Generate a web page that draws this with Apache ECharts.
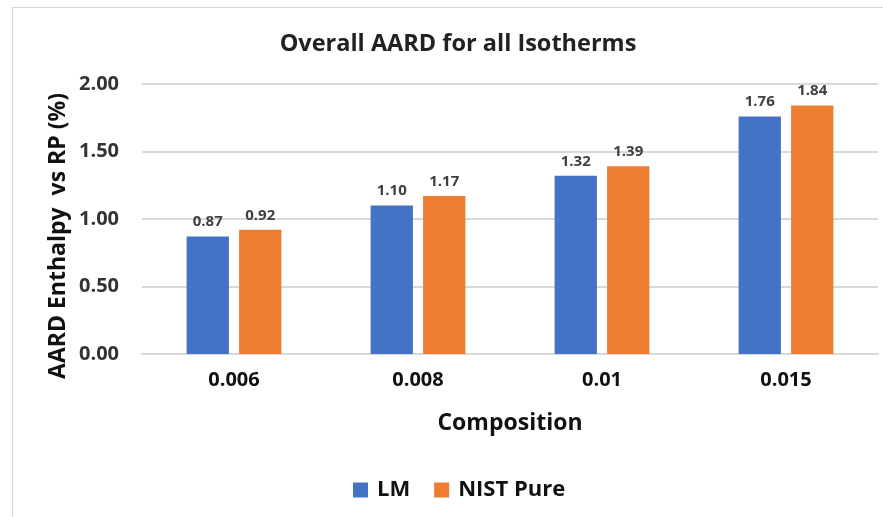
<!DOCTYPE html>
<html>
<head>
<meta charset="utf-8">
<script src="https://cdn.jsdelivr.net/npm/echarts@6/dist/echarts.min.js"></script>
<style>
  html, body { margin: 0; padding: 0; background: #fff; }
  #frame { position: absolute; left: 12px; top: 7px; right: -2px; bottom: -2px; border: 1px solid #d9d9d9; }
  #chart { width: 883px; height: 517px; position: absolute; left: 0; top: 0; }
</style>
</head>
<body>
<div id="frame"></div>
<div id="chart"></div>
<script>
// Compositions and AARD values per model
const compositions = ['0.006', '0.008', '0.01', '0.015'];
const lmValues = [0.87, 1.10, 1.32, 1.76];
const nistPureValues = [0.92, 1.17, 1.39, 1.84];
const yTicks = { min: 0, max: 2, interval: 0.5 };
const yTitle = 'AARD Enthalpy  vs RP (%)';

const FONT = '"Open Sans", "Noto Sans", sans-serif';

const labelStyle = {
  show: true,
  position: 'top',
  distance: 7,
  color: '#404040',
  fontFamily: FONT,
  fontWeight: 'bold',
  fontSize: 15,
  formatter: p => p.value.toFixed(2)
};

const chart = echarts.init(document.getElementById('chart'), null, { renderer: 'canvas' });
chart.setOption({
  animation: false,
  title: {
    text: 'Overall AARD for all Isotherms',
    left: 453,
    textAlign: 'center',
    top: 27,
    textStyle: { fontFamily: FONT, fontWeight: 'bold', fontSize: 23.5, color: '#222' }
  },
  legend: {
    data: ['LM', 'NIST Pure'],
    left: 348,
    top: 474,
    itemWidth: 15,
    itemHeight: 15,
    itemGap: 24,
    icon: 'rect',
    textStyle: { fontFamily: FONT, fontWeight: 'bold', fontSize: 22, color: '#111', padding: [0, 0, 0, 4] }
  },
  // vertical axis title, placed beside the tick labels
  graphic: [{
    type: 'text',
    x: 58,
    y: 236,
    rotation: Math.PI / 2,
    style: {
      text: yTitle,
      align: 'center',
      verticalAlign: 'middle',
      fontFamily: FONT,
      fontWeight: 'bold',
      fontSize: 23,
      fill: '#111'
    }
  }],
  grid: { left: 142, right: 5, top: 84, bottom: 163, containLabel: false },
  xAxis: {
    type: 'category',
    data: compositions,
    name: 'Composition',
    nameLocation: 'middle',
    nameGap: 58,
    nameTextStyle: { fontFamily: FONT, fontWeight: 'bold', fontSize: 23, color: '#111' },
    axisLine: { lineStyle: { color: '#d9d9d9', width: 2 } },
    axisTick: { show: false },
    axisLabel: { margin: 16, fontFamily: FONT, fontWeight: 'bold', fontSize: 20, color: '#111' }
  },
  yAxis: {
    type: 'value',
    min: yTicks.min,
    max: yTicks.max,
    interval: yTicks.interval,
    axisLine: { show: false },
    axisTick: { show: false },
    splitLine: { lineStyle: { color: '#d9d9d9', width: 2 } },
    axisLabel: { margin: 23, fontFamily: FONT, fontWeight: 'bold', fontSize: 20, color: '#333', formatter: v => v.toFixed(2) }
  },
  series: [
    {
      name: 'LM', type: 'bar', data: lmValues,
      barWidth: '23%', barGap: '24%',
      itemStyle: { color: '#4472C4' },
      label: labelStyle
    },
    {
      name: 'NIST Pure', type: 'bar', data: nistPureValues,
      barWidth: '23%', barGap: '24%',
      itemStyle: { color: '#ED7D31' },
      label: labelStyle
    }
  ]
});
</script>
</body>
</html>
